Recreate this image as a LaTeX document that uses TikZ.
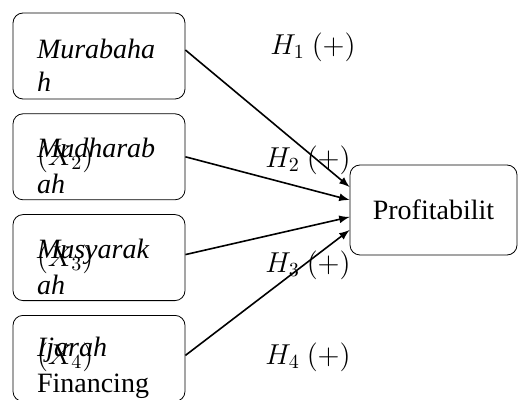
\documentclass[tikz,border=0pt]{standalone}
\usepackage{amsmath}
\usepackage{fontspec}
\setmainfont{Liberation Serif}
\usepackage{tikz}
\usetikzlibrary{arrows, positioning}
\tikzset{%
	var/.style={draw, rectangle, minimum width=86pt, minimum height=43pt,%
		text width=62pt, align=left, rounded corners=5pt, inner sep=0pt,%
		font=\fontsize{14}{16.5}\selectfont\itshape,%
		execute at begin node=\rule{0pt}{19pt}},
	dep/.style={draw, rectangle, minimum width=83.5pt, minimum height=45pt,%
		rounded corners=5pt, font=\fontsize{14}{16.5}\selectfont},
	hyp/.style={font=\fontsize{14}{16}\selectfont},
	sel/.style={-latex, thick}
}
\newcommand{\xlab}[1]{\rlap{\raisebox{-4pt}{\upshape$(X_{#1})$}}}

\begin{document}
\begin{tikzpicture}[x=0.5pt, y=-0.5pt, node distance=7pt]
	\useasboundingbox (0,0) rectangle (518,400);
	\node[var] (mur) at (99,56) {Murabaha\\h};
	\node[var, below=of mur] (mud) {\xlab{2}Mudharab\\ah};
	\node[var, below=of mud] (mus) {\xlab{3}Musyarak\\ah};
	\node[var, below=of mus] (ija) {\xlab{4}Ijarah\\\upshape Financing};
	\node[dep] (prof) at (433.5,210) {\raisebox{-8pt}{Profitabilit}};
	
	\node[hyp] (h1) at (313,47) {$H_1$ $(+)$};
	\node[hyp] (h2) at (308,160) {$H_2$ $(+)$};
	\node[hyp] (h3) at (308,265) {$H_3$ $(+)$};
	\node[hyp] (h4) at (308,357) {$H_4$ $(+)$};
	
	\draw[sel] ([yshift=3pt]mur.east) to ([yshift=11.5pt]prof.west);
	\draw[sel] (mud.east) to ([yshift=5pt]prof.west);
	\draw[sel] ([yshift=1.5pt]mus.east) to ([yshift=-3.5pt]prof.west);
	\draw[sel] ([yshift=1.5pt]ija.east) to ([yshift=-10pt]prof.west);
\end{tikzpicture}
\end{document}
